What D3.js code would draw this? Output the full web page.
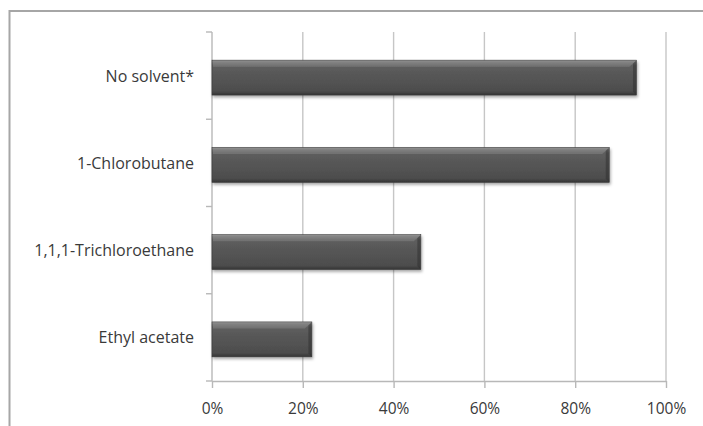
<!DOCTYPE html>
<html>
<head>
<meta charset="utf-8">
<script src="https://cdn.jsdelivr.net/npm/d3@7"></script>
<style>
  body { margin: 0; background: #fff; }
  svg { display: block; }
  text { font-family: "Open Sans", Lato, sans-serif; fill: #3a3a3a; }
</style>
</head>
<body>
<svg id="chart" width="703" height="426"></svg>
<script>
// Solvent effect on conversion (share, %)
const categories = ["No solvent*", "1-Chlorobutane", "1,1,1-Trichloroethane", "Ethyl acetate"];
const values = [93.5, 87.5, 46, 22];
const tickValues = [0, 20, 40, 60, 80, 100];
const tickLabels = ["0%", "20%", "40%", "60%", "80%", "100%"];

const svg = d3.select("#chart");
const W = 703, H = 426;
const plot = { left: 212, right: 666, top: 32, bottom: 381 };
const fontStack = "'Open Sans', Lato, sans-serif";

const x = d3.scaleLinear().domain([0, 100]).range([plot.left, plot.right]);
const y = d3.scaleBand().domain(categories).range([plot.top, plot.bottom]).padding(0);

// outer chart frame (only top and left edges fall inside the view)
svg.append("rect")
  .attr("x", 9.5).attr("y", 11)
  .attr("width", W + 20).attr("height", H + 20)
  .attr("fill", "none").attr("stroke", "#a6a6a6").attr("stroke-width", 2);

// defs: bar shading and shadow
const defs = svg.append("defs");
const grad = defs.append("linearGradient").attr("id", "barFill")
  .attr("x1", 0).attr("y1", 0).attr("x2", 0).attr("y2", 1);
[[0, "#9a9a9a"], [0.06, "#7a7a7a"], [0.16, "#5e5e5e"], [0.5, "#555555"], [0.88, "#4d4d4d"], [1, "#353535"]]
  .forEach(([o, c]) => grad.append("stop").attr("offset", o).attr("stop-color", c));
const shadow = defs.append("filter").attr("id", "barShadow")
  .attr("x", "-5%").attr("y", "-20%").attr("width", "115%").attr("height", "160%");
shadow.append("feDropShadow").attr("dx", 1).attr("dy", 2).attr("stdDeviation", 1.6)
  .attr("flood-color", "#000").attr("flood-opacity", 0.35);

// vertical gridlines
svg.append("g").selectAll("line")
  .data(tickValues.filter(t => t > 0))
  .join("line")
  .attr("x1", d => x(d)).attr("x2", d => x(d))
  .attr("y1", plot.top).attr("y2", plot.bottom)
  .attr("stroke", "#c6c6c6").attr("stroke-width", 1.4);

// x axis with outward ticks
const xAxis = d3.axisBottom(x).tickValues(tickValues).tickFormat((d, i) => tickLabels[i]).tickSize(7).tickSizeOuter(0);
const gx = svg.append("g").attr("transform", `translate(0,${plot.bottom})`).call(xAxis);
gx.select(".domain").attr("stroke", "#b8b8b8").attr("stroke-width", 1.4);
gx.selectAll(".tick line").attr("stroke", "#b8b8b8").attr("stroke-width", 1.4);
gx.selectAll(".tick text").attr("y", 33).attr("dy", 0)
  .style("font-size", "15.5px").style("font-family", fontStack).attr("fill", "#3a3a3a");

// y axis: line plus ticks at category boundaries
const bounds = categories.map(c => y(c)).concat([plot.bottom]);
const gy = svg.append("g");
gy.append("line").attr("x1", plot.left).attr("x2", plot.left)
  .attr("y1", plot.top).attr("y2", plot.bottom)
  .attr("stroke", "#b8b8b8").attr("stroke-width", 1.4);
gy.selectAll("line.tk").data(bounds).join("line").attr("class", "tk")
  .attr("x1", plot.left - 6).attr("x2", plot.left)
  .attr("y1", d => d).attr("y2", d => d)
  .attr("stroke", "#b8b8b8").attr("stroke-width", 1.4);

// category labels
gy.selectAll("text").data(categories).join("text")
  .attr("x", plot.left - 18)
  .attr("y", d => y(d) + y.bandwidth() / 2 + 6)
  .attr("text-anchor", "end")
  .style("font-size", "16px")
  .text(d => d);

// bars
const barH = y.bandwidth() * 0.4;
const barOff = (y.bandwidth() - barH) / 2 + 2;
const bars = svg.append("g").selectAll("g").data(categories).join("g");
bars.append("rect")
  .attr("x", x(0))
  .attr("y", d => y(d) + barOff)
  .attr("width", (d, i) => x(values[i]) - x(0))
  .attr("height", barH)
  .attr("fill", "url(#barFill)")
  .attr("stroke", "#3a3a3a").attr("stroke-width", 0.6)
  .attr("filter", "url(#barShadow)");
// bevel highlight along the top with a slanted right end
bars.append("path")
  .attr("d", (d, i) => {
    const x0 = x(0) + 1, x1 = x(values[i]) - 1, y0 = y(d) + barOff + 0.5, b = 6;
    return `M${x0},${y0}L${x1},${y0}L${x1 - b},${y0 + b}L${x0},${y0 + b}Z`;
  })
  .attr("fill", "#8c8c8c").attr("opacity", 0.45);
// darker right edge
bars.append("path")
  .attr("d", (d, i) => {
    const x1 = x(values[i]) - 0.5, y0 = y(d) + barOff + 0.5, y1 = y0 + barH - 1, b = 6;
    return `M${x1},${y0}L${x1},${y1}L${x1 - 3},${y1 - 3}L${x1 - 3},${y0 + b - 3}Z`;
  })
  .attr("fill", "#2e2e2e").attr("opacity", 0.5);
</script>
</body>
</html>
